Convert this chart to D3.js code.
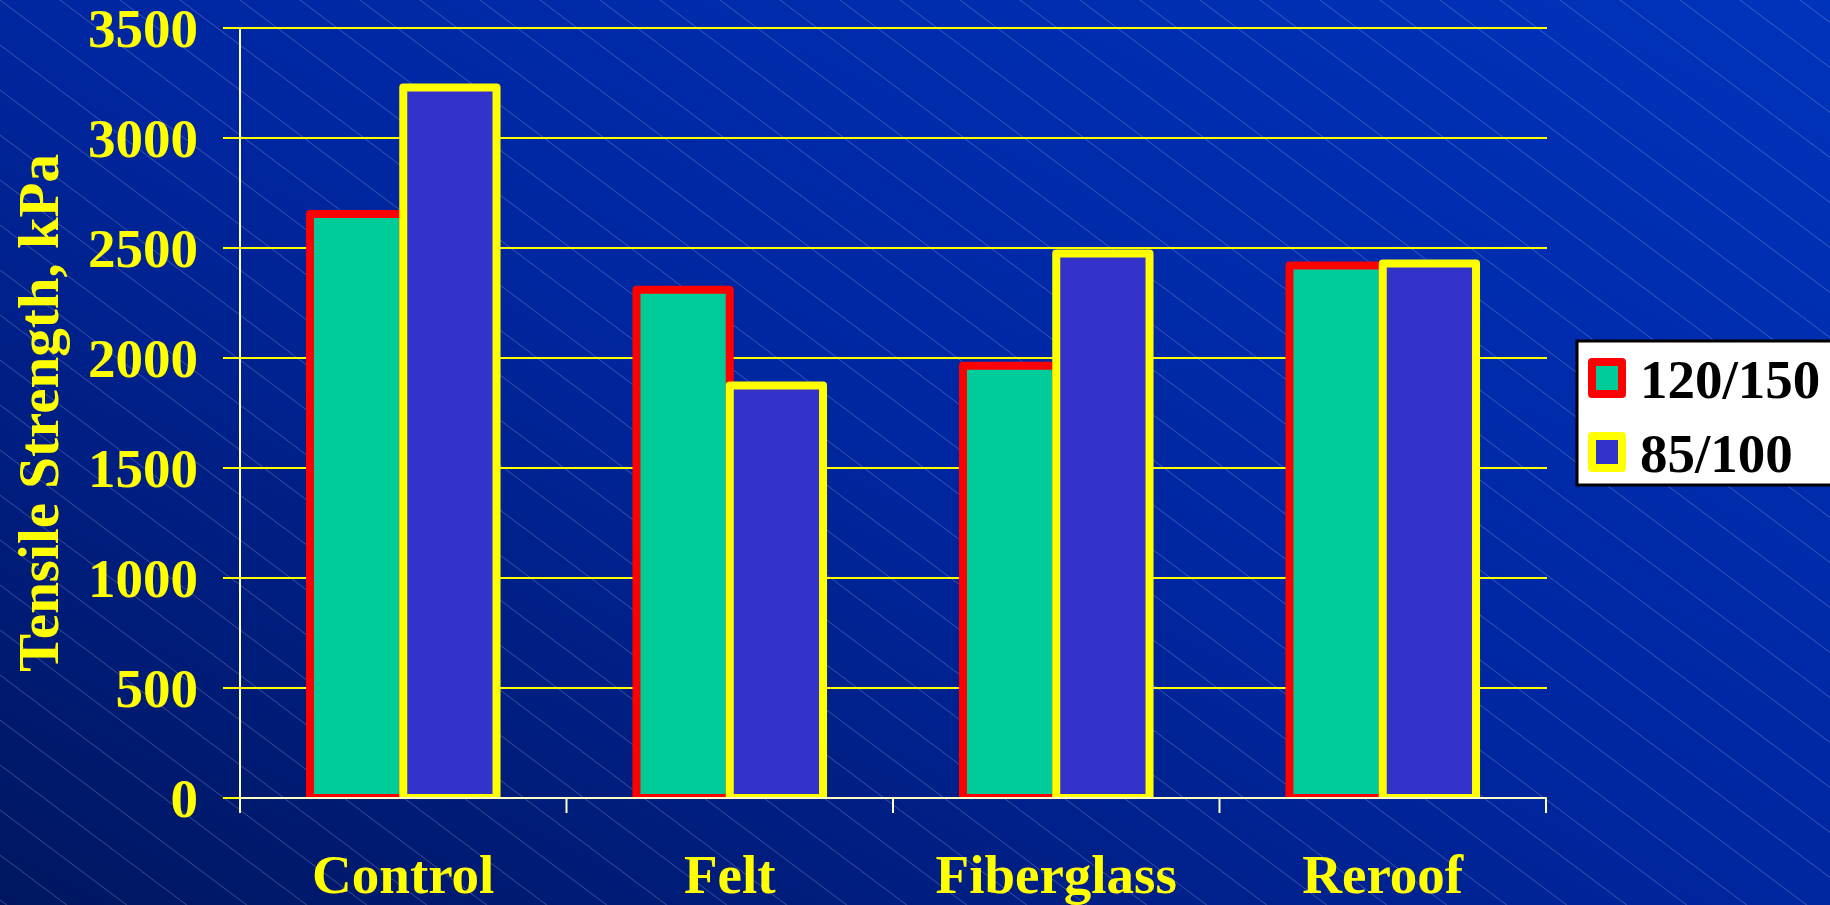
<!DOCTYPE html>
<html>
<head>
<meta charset="utf-8">
<script src="https://cdn.jsdelivr.net/npm/d3@7"></script>
<style>
  html, body { margin: 0; padding: 0; overflow: hidden; background: #001a70; }
  svg { display: block; }
</style>
</head>
<body>
<div id="chart"></div>
<script>
// Podatki grafa
const categories = ["Control", "Felt", "Fiberglass", "Reroof"];
const seriesNames = ["120/150", "85/100"];
const values120 = [2655, 2310, 1965, 2420];
const values85 = [3230, 1875, 2475, 2430];
const yTicks = [0, 500, 1000, 1500, 2000, 2500, 3000, 3500];
const yTickLabels = ["0", "500", "1000", "1500", "2000", "2500", "3000", "3500"];
const yTitle = "Tensile Strength, kPa";

const fills = ["#00cc99", "#3333cc"];
const strokes = ["#ff0000", "#ffff00"];

function drawChart() {
    const width = 1830;
    const height = 905;
    const plotLeft = 240;
    const plotRight = 1546;
    const plotTop = 28;
    const plotBottom = 798;
    const font = "'Liberation Serif', 'Times New Roman', serif";

    const svg = d3.create("svg")
        .attr("width", width)
        .attr("height", height)
        .attr("viewBox", [0, 0, width, height]);

    const defs = svg.append("defs");

    // Ozadje: gradient in diagonalne črte
    const grad = defs.append("linearGradient")
        .attr("id", "bg")
        .attr("x1", 0).attr("y1", 1).attr("x2", 1).attr("y2", 0);
    grad.append("stop").attr("offset", "0%").attr("stop-color", "#001660");
    grad.append("stop").attr("offset", "50%").attr("stop-color", "#0026a0");
    grad.append("stop").attr("offset", "100%").attr("stop-color", "#0033bb");

    const pat = defs.append("pattern")
        .attr("id", "hatch")
        .attr("patternUnits", "userSpaceOnUse")
        .attr("width", 60)
        .attr("height", 45);
    pat.append("line")
        .attr("x1", -6).attr("y1", -4.5).attr("x2", 66).attr("y2", 49.5)
        .attr("stroke", "rgba(255,255,255,0.22)")
        .attr("stroke-width", 1);

    defs.append("clipPath").attr("id", "plotClip")
        .append("rect")
        .attr("x", 0).attr("y", 0)
        .attr("width", width).attr("height", plotBottom + 1);

    svg.append("rect").attr("width", width).attr("height", height).attr("fill", "url(#bg)");
    svg.append("rect").attr("width", width).attr("height", height).attr("fill", "url(#hatch)");

    // Skale
    const x0 = d3.scaleBand()
        .domain(categories)
        .range([plotLeft, plotRight])
        .padding(0);

    const x1 = d3.scaleBand()
        .domain(seriesNames)
        .range([0, x0.bandwidth()])
        .paddingInner(0)
        .paddingOuter(0.75);

    const y = d3.scaleLinear()
        .domain([0, 3500])
        .range([plotBottom, plotTop]);

    // Mrežne črte
    svg.append("g")
        .selectAll("line")
        .data(yTicks)
        .join("line")
        .attr("x1", plotLeft - 17)
        .attr("x2", plotRight + 1)
        .attr("y1", d => y(d))
        .attr("y2", d => y(d))
        .attr("stroke", "#ffff00")
        .attr("stroke-width", 2);

    // Stolpci (najprej prva serija, nato druga)
    const seriesData = [values120, values85];
    const bars = svg.append("g").attr("clip-path", "url(#plotClip)");
    seriesData.forEach((vals, si) => {
        bars.append("g")
            .selectAll("rect")
            .data(categories.map((c, i) => ({ cat: c, value: vals[i] })))
            .join("rect")
            .attr("x", d => x0(d.cat) + x1(seriesNames[si]))
            .attr("y", d => y(d.value))
            .attr("width", x1.bandwidth())
            .attr("height", d => y(0) - y(d.value))
            .attr("fill", fills[si])
            .attr("stroke", strokes[si])
            .attr("stroke-width", 8)
            .attr("stroke-linejoin", "round");
    });

    // Os Y
    const gy = svg.append("g")
        .attr("transform", `translate(${plotLeft},0)`)
        .call(d3.axisLeft(y)
            .tickValues(yTicks)
            .tickFormat((d, i) => yTickLabels[i])
            .tickSize(0)
            .tickPadding(42))
        .call(g => g.select(".domain").remove());
    gy.selectAll("text")
        .attr("fill", "#ffff00")
        .attr("font-family", font)
        .attr("font-weight", "bold")
        .attr("font-size", 55)
        .attr("dy", "0.34em");

    svg.append("line")
        .attr("x1", plotLeft).attr("x2", plotLeft)
        .attr("y1", plotTop).attr("y2", plotBottom + 15)
        .attr("stroke", "#ffffc8")
        .attr("stroke-width", 2);

    // Os X
    const gx = svg.append("g")
        .attr("transform", `translate(0,${plotBottom})`);
    gx.append("line")
        .attr("x1", plotLeft).attr("x2", plotRight)
        .attr("stroke", "#ffffc8")
        .attr("stroke-width", 2);
    gx.selectAll("line.tick")
        .data(categories)
        .join("line")
        .attr("class", "tick")
        .attr("x1", d => x0(d) + x0.step())
        .attr("x2", d => x0(d) + x0.step())
        .attr("y1", 0).attr("y2", 15)
        .attr("stroke", "#ffffc8")
        .attr("stroke-width", 2);
    gx.selectAll("text")
        .data(categories)
        .join("text")
        .attr("x", d => x0(d) + x0.bandwidth() / 2)
        .attr("y", 95)
        .attr("text-anchor", "middle")
        .attr("fill", "#ffff00")
        .attr("font-family", font)
        .attr("font-weight", "bold")
        .attr("font-size", 55)
        .text(d => d);

    // Naslov osi Y
    svg.append("text")
        .attr("transform", `translate(58,${(plotTop + plotBottom) / 2}) rotate(-90)`)
        .attr("text-anchor", "middle")
        .attr("fill", "#ffff00")
        .attr("font-family", font)
        .attr("font-weight", "bold")
        .attr("font-size", 57)
        .text(yTitle);

    // Legenda
    const legend = svg.append("g");
    legend.append("rect")
        .attr("x", 1577).attr("y", 341)
        .attr("width", 270).attr("height", 144)
        .attr("fill", "#ffffff")
        .attr("stroke", "#000000")
        .attr("stroke-width", 3);
    const items = legend.selectAll("g.item")
        .data(seriesNames)
        .join("g")
        .attr("class", "item")
        .attr("transform", (d, i) => `translate(1592,${362 + i * 74})`);
    items.append("rect")
        .attr("width", 30).attr("height", 32)
        .attr("fill", (d, i) => fills[i])
        .attr("stroke", (d, i) => strokes[i])
        .attr("stroke-width", 8)
        .attr("stroke-linejoin", "round");
    items.append("text")
        .attr("x", 48)
        .attr("y", 36)
        .attr("fill", "#000000")
        .attr("font-family", font)
        .attr("font-weight", "bold")
        .attr("font-size", 55)
        .text(d => d);

    document.getElementById("chart").appendChild(svg.node());
}

drawChart();
</script>
</body>
</html>
